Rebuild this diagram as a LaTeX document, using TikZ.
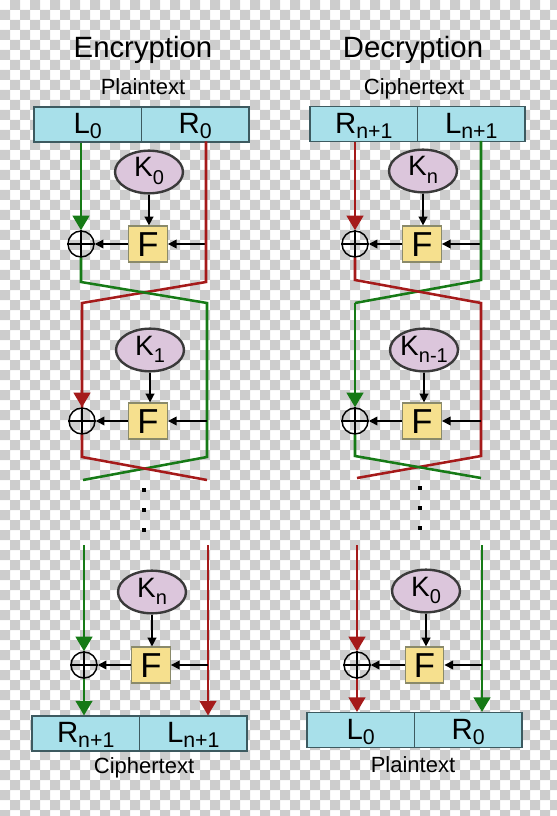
\documentclass[tikz,border=0pt]{standalone}
\usepackage{fontspec}
\setmainfont{Liberation Sans}
\usetikzlibrary{arrows.meta,shapes.geometric}
\definecolor{bxf}{HTML}{A8E0EA}
\definecolor{bxb}{HTML}{3D5A60}
\definecolor{lg}{HTML}{167A16}
\definecolor{lr}{HTML}{A51A1A}
\definecolor{kf}{HTML}{DCC6DC}
\definecolor{kb}{HTML}{3A3A3A}
\definecolor{ff}{HTML}{F6E08E}
\definecolor{fb}{HTML}{8A8A6A}
\definecolor{chk}{HTML}{CDCDCD}
\newcommand\bsub[1]{\raisebox{-3.8pt}{\fontsize{16}{16}\selectfont #1}}
\newcommand\ksub[1]{\raisebox{-5.8pt}{\fontsize{15}{15}\selectfont #1}}
\newcommand\xorplus[1]{\draw[line width=1.1pt] (#1.north)--(#1.south) (#1.west)--(#1.east);}
\tikzset{
 half/.style={draw=bxb, fill=bxf, line width=1.1pt, minimum width=80.6pt, minimum height=26pt, inner sep=0pt, text height=15.8pt, text depth=2pt, font=\fontsize{22}{22}\selectfont},
 key/.style={ellipse, draw=kb, fill=kf, line width=1.8pt, minimum width=51pt, minimum height=32pt, inner sep=0pt, text height=15pt, text depth=7.5pt, font=\fontsize{21}{21}\selectfont},
 fbox/.style={draw=fb, fill=ff, line width=0.9pt, minimum width=29pt, minimum height=27pt, inner sep=0pt, text height=18.6pt, text depth=0pt, font=\fontsize{26}{26}\selectfont},
 xor/.style={circle, draw=black, line width=1.1pt, minimum size=19.5pt, inner sep=0pt},
 grn/.style={draw=lg, line width=1.9pt},
 rd/.style={draw=lr, line width=1.9pt},
 bigtip/.style={-{Triangle[width=12.5pt,length=11pt]}},
 blk/.style={draw=black, line width=1.1pt, -{Triangle[width=6.5pt,length=6.5pt]}},
 ttl/.style={font=\fontsize{22}{22}\selectfont, anchor=base, inner sep=0pt},
 subttl/.style={font=\fontsize{16.5}{16.5}\selectfont, anchor=base, inner sep=0pt},
 dotn/.style={rectangle, fill=black, minimum size=3.2pt, inner sep=0pt},
}
\begin{document}
\begin{tikzpicture}[x=0.75pt,y=-0.75pt]
\useasboundingbox (0,0) rectangle (556,816);
% checkerboard background
\foreach \j in {0,20,...,800}{
  \foreach \i in {0,20,...,540}{
    \fill[chk] (\i+10,\j) rectangle ++(10,10) (\i,\j+10) rectangle ++(10,10);
  }
}
% ================= ENCRYPTION =================
\node[ttl] (etitle) at (143,58) {Encryption};
\node[subttl] (ept) at (143,95) {Plaintext};
\node[half] (pL) at (87.75,124.5) {L\bsub{0}};
\node[half] (pR) at (195.25,124.5) {R\bsub{0}};
% round 1
\node[key] (k1) at (149,172) {K\ksub{0}};
\node[fbox] (f1) at (148,244) {F};
\node[xor] (x1) at (81,244) {};
\xorplus{x1}
\coordinate (eR0) at (206,141.5);
\coordinate (eF1) at (206,244);
\coordinate (eRa) at (206,282);
\coordinate (eRb) at (82,303);
\coordinate (eGa) at (81,282);
\coordinate (eGb) at (207,303);
\draw[grn,bigtip] (x1 |- pL.south) -- (x1.north);
\draw[blk] (k1.south) -- (k1.south |- f1.north);
\draw[blk] (eF1) -- (f1.east);
\draw[blk] (f1.west) -- (x1.east);
% round 2
\node[key] (k2) at (150,350) {K\ksub{1}};
\node[fbox] (f2) at (148,421) {F};
\node[xor] (x2) at (82,421) {};
\xorplus{x2}
\coordinate (eF2) at (207,421);
\coordinate (eGc) at (207,457);
\coordinate (eGd) at (83,480);
\coordinate (eRc) at (82,457);
\coordinate (eRd) at (207,480);
\draw[rd,line join=miter] (eR0) -- (eRa) -- (eRb) -- (x2.north);
\draw[rd,bigtip] (eRb) -- (x2.north);
\draw[grn] (x1.south) -- (eGa) -- (eGb) -- (eGc) -- (eGd);
\draw[blk] (k2.south) -- (k2.south |- f2.north);
\draw[blk] (eF2) -- (f2.east);
\draw[blk] (f2.west) -- (x2.east);
\draw[rd] (x2.south) -- (eRc) -- (eRd);
% dots
\node[dotn] (ed1) at (144,490) {};
\node[dotn] (ed2) at (144,510) {};
\node[dotn] (ed3) at (144,530) {};
% round n
\node[key] (k3) at (152,592) {K\ksub{n}};
\node[fbox] (f3) at (151,665) {F};
\node[xor] (x3) at (84,665) {};
\xorplus{x3}
\node[half] (bL) at (85.75,733.5) {R\bsub{n+1}};
\node[half] (bR) at (193.25,733.5) {L\bsub{n+1}};
\coordinate (eGn) at (84,545);
\coordinate (eRn) at (208,545);
\coordinate (eF3) at (208,665);
\draw[grn,bigtip] (eGn) -- (x3.north);
\draw[rd,bigtip] (eRn) -- (eRn |- bR.north);
\draw[grn,bigtip] (x3.south) -- (x3 |- bL.north);
\draw[blk] (k3.south) -- (k3.south |- f3.north);
\draw[blk] (eF3) -- (f3.east);
\draw[blk] (f3.west) -- (x3.east);
\node[subttl] (ect) at (144,773) {Ciphertext};
% ================= DECRYPTION =================
\node[ttl] (dtitle) at (413,58) {Decryption};
\node[subttl] (dct) at (414,95) {Ciphertext};
\node[half] (dL) at (363.75,124) {R\bsub{n+1}};
\node[half] (dR) at (471.25,124) {L\bsub{n+1}};
% round 1
\node[key] (dk1) at (423,171) {K\ksub{n}};
\node[fbox] (df1) at (422,244) {F};
\node[xor] (dx1) at (355,244) {};
\xorplus{dx1}
\coordinate (dG0) at (481,141);
\coordinate (dF1) at (481,244);
\coordinate (dGa) at (481,280);
\coordinate (dGb) at (355,303);
\coordinate (dRa) at (355,280);
\coordinate (dRb) at (481,303);
\draw[rd,bigtip] (dx1 |- dL.south) -- (dx1.north);
\draw[blk] (dk1.south) -- (dk1.south |- df1.north);
\draw[blk] (dF1) -- (df1.east);
\draw[blk] (df1.west) -- (dx1.east);
% round 2
\node[key] (dk2) at (424,350) {K\ksub{n-1}};
\node[fbox] (df2) at (422,421) {F};
\node[xor] (dx2) at (355,421) {};
\xorplus{dx2}
\coordinate (dF2) at (481,421);
\coordinate (dRc) at (481,456);
\coordinate (dRd) at (357,478);
\coordinate (dGc) at (355,456);
\coordinate (dGd) at (481,478);
\draw[grn] (dG0) -- (dGa) -- (dGb);
\draw[grn,bigtip] (dGb) -- (dx2.north);
\draw[rd] (dx1.south) -- (dRa) -- (dRb) -- (dRc) -- (dRd);
\draw[blk] (dk2.south) -- (dk2.south |- df2.north);
\draw[blk] (dF2) -- (df2.east);
\draw[blk] (df2.west) -- (dx2.east);
\draw[grn] (dx2.south) -- (dGc) -- (dGd);
% dots
\node[dotn] (dd1) at (420,488) {};
\node[dotn] (dd2) at (420,508) {};
\node[dotn] (dd3) at (420,528) {};
% round n
\node[key] (dk3) at (426,591) {K\ksub{0}};
\node[fbox] (df3) at (424.5,665) {F};
\node[xor] (dx3) at (357,665) {};
\xorplus{dx3}
\node[half] (dbL) at (360.75,730) {L\bsub{0}};
\node[half] (dbR) at (468.25,730) {R\bsub{0}};
\coordinate (dRn) at (357,545);
\coordinate (dGn) at (482,545);
\coordinate (dF3) at (482,665);
\draw[rd,bigtip] (dRn) -- (dx3.north);
\draw[grn,bigtip] (dGn) -- (dGn |- dbR.north);
\draw[rd,bigtip] (dx3.south) -- (dx3 |- dbL.north);
\draw[blk] (dk3.south) -- (dk3.south |- df3.north);
\draw[blk] (dF3) -- (df3.east);
\draw[blk] (df3.west) -- (dx3.east);
\node[subttl] (dpt) at (413,772) {Plaintext};
\end{tikzpicture}
\end{document}
